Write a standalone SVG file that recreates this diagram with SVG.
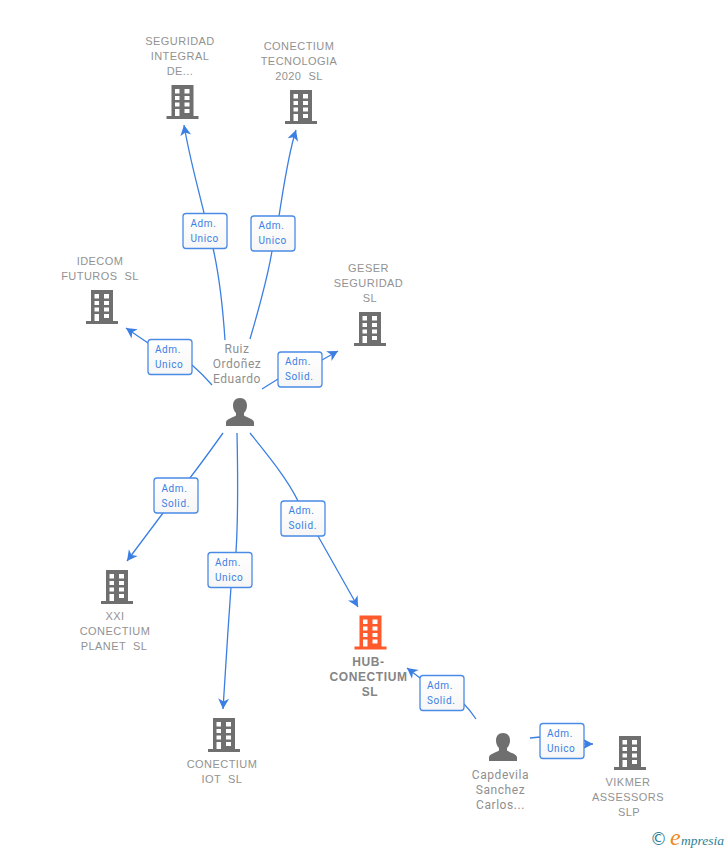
<svg xmlns="http://www.w3.org/2000/svg" width="728" height="850" viewBox="0 0 728 850">
<style>
.n{font-family:"Liberation Sans",Arial,sans-serif;font-size:11px;fill:#929292;text-anchor:middle;white-space:pre;letter-spacing:.45px}
.p{font-family:Roboto,"Liberation Sans",sans-serif;font-size:12px;fill:#8f8f8f;text-anchor:middle;letter-spacing:.55px}
.hub{font-weight:bold;font-size:12px;letter-spacing:.6px;fill:#858585}
.c{fill:none;stroke:#3b7fe3;stroke-width:1.3}
.b{fill:url(#bg);stroke:#4a8be6;stroke-width:1.3}
.t{font-family:Roboto,"Liberation Sans",sans-serif;font-size:10px;fill:#3b7fe3;letter-spacing:.6px}
</style>
<defs>
<linearGradient id="bg" x1="0" y1="0" x2="0" y2="1"><stop offset="0" stop-color="#fff"/><stop offset="1" stop-color="#f6f6f6"/></linearGradient>
<marker id="a" viewBox="0 0 12 12" refX="11" refY="6" markerWidth="12" markerHeight="12" markerUnits="userSpaceOnUse" orient="auto"><path d="M11 6L0.500 0.500L3.500 6L0.500 11.500Z" fill="#3b7fe3"/></marker>
<symbol id="bld" width="32" height="35" viewBox="0 0 32 35" overflow="visible">
<path fill-rule="evenodd" d="M5 0H27V31H32V34H0V31H5ZM8.500 4V8.500H13V4ZM18 4V8.500H23V4ZM8.500 11V15H13V11ZM18 11V15H23V11ZM8.500 17.500V21.500H13V17.500ZM18 17.500V21.500H23V17.500ZM8.500 24V31H13V24ZM18 24V28H23V24Z"/>
</symbol>
<symbol id="per" width="28" height="28" viewBox="0 0 28 28">
<path fill="#6f6f6f" d="M14 0C18.500 0 21 3 21 7.500C21 11 19.500 13.500 18 15V17.500C20.500 19.500 27 20.500 28 24V28H0V24C1 20.500 7.500 19.500 10 17.500V15C8.500 13.500 7 11 7 7.500C7 3 9.500 0 14 0Z"/>
</symbol>
</defs>
<g id="connectors">
<path class="c" marker-end="url(#a)" d="M225 340C222 295 218 270 213 248L204 213C196 180 189 155 184 125"/>
<path class="c" marker-end="url(#a)" d="M250 339C260 305 268 275 272 251L279 216C284 185 288 155 296 130"/>
<path class="c" marker-end="url(#a)" d="M212 385C205 377 199 371 192 365L148 343L126 328"/>
<path class="c" marker-end="url(#a)" d="M262 389L278 379L322 360L338 351"/>
<path class="c" marker-end="url(#a)" d="M223 433C213 447 205 458 196 470L163 513L127 561"/>
<path class="c" marker-end="url(#a)" d="M237 433C238 480 238 520 236 552L231 587C228 630 226 660 223 709"/>
<path class="c" marker-end="url(#a)" d="M250 433C270 458 288 480 298 501L318 536L358 607"/>
<path class="c" marker-end="url(#a)" d="M476 719C472 713 468 708 464 704L420 678L407 668"/>
<path class="c" marker-end="url(#a)" d="M530 738L540 737L584 744H593"/>
</g>
<g id="labels">
<g><rect class="b" x="183" y="213.500" width="44" height="35" rx="3"/><text class="t" x="190.500" y="227">Adm.</text><text class="t" x="190.500" y="242">Unico</text></g>
<g><rect class="b" x="251" y="216" width="44" height="35" rx="3"/><text class="t" x="258.500" y="229">Adm.</text><text class="t" x="258.500" y="244">Unico</text></g>
<g><rect class="b" x="148" y="339.500" width="44" height="35" rx="3"/><text class="t" x="155" y="353">Adm.</text><text class="t" x="155" y="368">Unico</text></g>
<g><rect class="b" x="278" y="352" width="44" height="35" rx="3"/><text class="t" x="285" y="365">Adm.</text><text class="t" x="285" y="380">Solid.</text></g>
<g><rect class="b" x="154" y="478" width="44" height="35" rx="3"/><text class="t" x="161.500" y="492">Adm.</text><text class="t" x="161.500" y="507">Solid.</text></g>
<g><rect class="b" x="208" y="552.500" width="44" height="35" rx="3"/><text class="t" x="215" y="566">Adm.</text><text class="t" x="215" y="581">Unico</text></g>
<g><rect class="b" x="281" y="501" width="44" height="35" rx="3"/><text class="t" x="288.500" y="514">Adm.</text><text class="t" x="288.500" y="529">Solid.</text></g>
<g><rect class="b" x="420" y="675.500" width="44" height="35" rx="3"/><text class="t" x="427" y="689">Adm.</text><text class="t" x="427" y="704">Solid.</text></g>
<g><rect class="b" x="540" y="723.500" width="44" height="35" rx="3"/><text class="t" x="547" y="737">Adm.</text><text class="t" x="547" y="752">Unico</text></g>
</g>
<g id="seguridad"><text class="n" x="180" y="45">SEGURIDAD</text><text class="n" x="180" y="60">INTEGRAL</text><text class="n" x="180" y="75">DE...</text><use href="#bld" x="166.500" y="85" fill="#6f6f6f"/></g>
<g id="tecnologia"><text class="n" x="299" y="50">CONECTIUM</text><text class="n" x="299" y="65">TECNOLOGIA</text><text class="n" x="299" y="80">2020  SL</text><use href="#bld" x="285" y="90" fill="#6f6f6f"/></g>
<g id="idecom"><text class="n" x="100" y="265">IDECOM</text><text class="n" x="100" y="280">FUTUROS  SL</text><use href="#bld" x="86" y="290" fill="#6f6f6f"/></g>
<g id="geser"><text class="n" x="368.500" y="272">GESER</text><text class="n" x="368.500" y="287">SEGURIDAD</text><text class="n" x="370" y="302">SL</text><use href="#bld" x="354" y="312" fill="#6f6f6f"/></g>
<g id="ruiz"><text class="p" x="237" y="353">Ruiz</text><text class="p" x="237" y="368">Ordoñez</text><text class="p" x="237" y="383">Eduardo</text><use href="#per" x="226" y="398"/></g>
<g id="xxi"><use href="#bld" x="101" y="570" fill="#6f6f6f"/><text class="n" x="115" y="620">XXI</text><text class="n" x="115" y="635">CONECTIUM</text><text class="n" x="114" y="650">PLANET  SL</text></g>
<g id="iot"><use href="#bld" x="208" y="718" fill="#6f6f6f"/><text class="n" x="222" y="768">CONECTIUM</text><text class="n" x="222" y="783">IOT  SL</text></g>
<g id="hub"><use href="#bld" x="354.500" y="615.500" fill="#ff5a2b"/><text class="n hub" x="368.500" y="666">HUB-</text><text class="n hub" x="368.500" y="681">CONECTIUM</text><text class="n hub" x="370" y="696">SL</text></g>
<g id="capdevila"><use href="#per" x="489" y="733"/><text class="p" x="500.500" y="779">Capdevila</text><text class="p" x="500.500" y="794">Sanchez</text><text class="p" x="500.500" y="809">Carlos...</text></g>
<g id="vikmer"><use href="#bld" x="614" y="736" fill="#6f6f6f"/><text class="n" x="628" y="786">VIKMER</text><text class="n" x="628" y="801">ASSESSORS</text><text class="n" x="629" y="816">SLP</text></g>
<g id="logo"><text x="650" y="845" font-family="'DejaVu Sans',sans-serif" font-size="17" fill="#2f7f95">©</text><text x="670" y="845" font-family="'Liberation Serif',serif" font-style="italic" font-size="24" fill="#f08a1d">e</text><text x="681" y="845" font-family="'Liberation Serif',serif" font-style="italic" font-size="13.500" fill="#2f7f95">mpresia</text></g>
</svg>
